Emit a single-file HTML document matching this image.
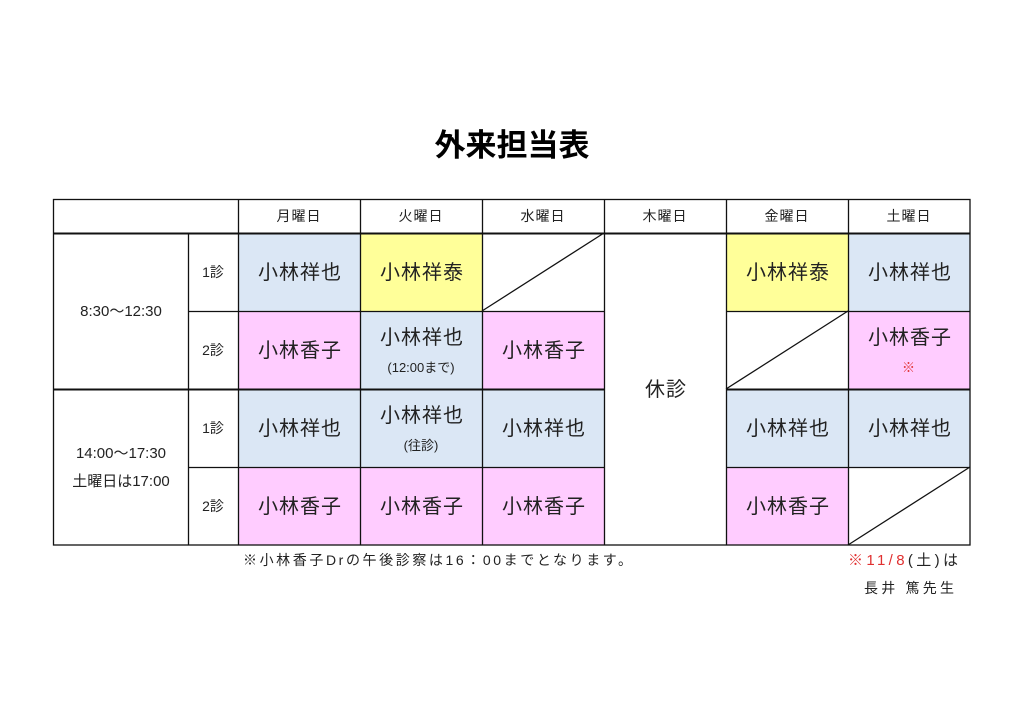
<!DOCTYPE html>
<html><head><meta charset="utf-8">
<style>
html,body{margin:0;padding:0;background:#fff;width:1024px;height:724px;overflow:hidden}
svg text{font-family:"Liberation Sans","Noto Sans CJK JP",sans-serif;fill:#222}
</style></head><body>
<svg width="1024" height="724" xmlns="http://www.w3.org/2000/svg">
<text x="512" y="156" font-size="31" font-weight="bold" text-anchor="middle" style="fill:#000">外来担当表</text>
<g>
<rect x="238" y="233" width="122" height="78" fill="#dbe7f5"/>
<rect x="360" y="233" width="122" height="78" fill="#ffff99"/>
<rect x="726" y="233" width="122" height="78" fill="#ffff99"/>
<rect x="848" y="233" width="122" height="78" fill="#dbe7f5"/>
<rect x="238" y="311" width="122" height="78" fill="#ffccff"/>
<rect x="360" y="311" width="122" height="78" fill="#dbe7f5"/>
<rect x="482" y="311" width="122" height="78" fill="#ffccff"/>
<rect x="848" y="311" width="122" height="78" fill="#ffccff"/>
<rect x="238" y="389" width="366" height="78" fill="#dbe7f5"/>
<rect x="726" y="389" width="244" height="78" fill="#dbe7f5"/>
<rect x="238" y="467" width="366" height="78" fill="#ffccff"/>
<rect x="726" y="467" width="122" height="78" fill="#ffccff"/>
</g>
<g stroke="#111" stroke-width="1.3" fill="none">
<rect x="53.5" y="199.5" width="916.5" height="345.5"/>
<line x1="53" y1="233.5" x2="970" y2="233.5" stroke-width="2"/>
<line x1="53" y1="389.5" x2="604" y2="389.5" stroke-width="2"/>
<line x1="726" y1="389.5" x2="970" y2="389.5" stroke-width="2"/>
<line x1="188" y1="311.5" x2="604" y2="311.5"/>
<line x1="726" y1="311.5" x2="970" y2="311.5"/>
<line x1="188" y1="467.5" x2="604" y2="467.5"/>
<line x1="726" y1="467.5" x2="970" y2="467.5"/>
<line x1="188.5" y1="233" x2="188.5" y2="545"/>
<line x1="238.5" y1="199" x2="238.5" y2="545"/>
<line x1="360.5" y1="199" x2="360.5" y2="545"/>
<line x1="482.5" y1="199" x2="482.5" y2="545"/>
<line x1="604.5" y1="199" x2="604.5" y2="545"/>
<line x1="726.5" y1="199" x2="726.5" y2="545"/>
<line x1="848.5" y1="199" x2="848.5" y2="545"/>
<line x1="482" y1="311" x2="604" y2="233"/>
<line x1="726" y1="389" x2="848" y2="311"/>
<line x1="848" y1="545" x2="970" y2="467"/>
</g>
<g font-size="14" text-anchor="middle">
<text x="299" y="221" letter-spacing="1">月曜日</text>
<text x="421" y="221" letter-spacing="1">火曜日</text>
<text x="543" y="221" letter-spacing="1">水曜日</text>
<text x="665" y="221" letter-spacing="1">木曜日</text>
<text x="787" y="221" letter-spacing="1">金曜日</text>
<text x="909" y="221" letter-spacing="1">土曜日</text>
<text x="121" y="316" font-size="15">8:30～12:30</text>
<text x="121" y="458" font-size="15">14:00～17:30</text>
<text x="121" y="486" font-size="15">土曜日は17:00</text>
<text x="213" y="277">1診</text>
<text x="213" y="355">2診</text>
<text x="213" y="433">1診</text>
<text x="213" y="511">2診</text>
</g>
<g font-size="20" text-anchor="middle" letter-spacing="1">
<text x="300" y="279">小林祥也</text>
<text x="422" y="279">小林祥泰</text>
<text x="788" y="279">小林祥泰</text>
<text x="910" y="279">小林祥也</text>
<text x="300" y="357">小林香子</text>
<text x="422" y="344">小林祥也</text>
<text x="421" y="372" font-size="13" letter-spacing="0">(12:00まで)</text>
<text x="544" y="357">小林香子</text>
<text x="910" y="344">小林香子</text>
<text x="909" y="372" font-size="13" style="fill:#e03030">※</text>
<text x="666" y="396">休診</text>
<text x="300" y="435">小林祥也</text>
<text x="422" y="422">小林祥也</text>
<text x="421" y="450" font-size="13" letter-spacing="0">(往診)</text>
<text x="544" y="435">小林祥也</text>
<text x="788" y="435">小林祥也</text>
<text x="910" y="435">小林祥也</text>
<text x="300" y="513">小林香子</text>
<text x="422" y="513">小林香子</text>
<text x="544" y="513">小林香子</text>
<text x="788" y="513">小林香子</text>
</g>
<text x="243" y="565" font-size="14" textLength="389" lengthAdjust="spacing">※小林香子Drの午後診察は16：00までとなります。</text>
<text x="848" y="565" font-size="15" textLength="110" lengthAdjust="spacing"><tspan style="fill:#e03030">※11/8</tspan>(土)は</text>
<text x="864" y="593" font-size="14" textLength="90" lengthAdjust="spacing">長井 篤先生</text>
</svg>
</body></html>
